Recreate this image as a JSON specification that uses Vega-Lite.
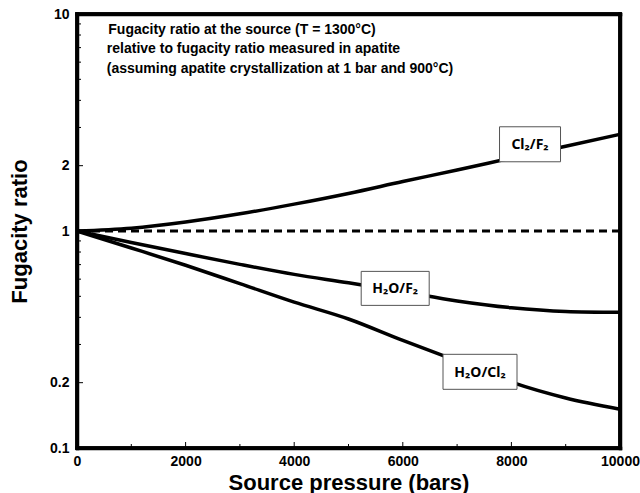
{
  "$schema": "https://vega.github.io/schema/vega-lite/v6.json",
  "width": 543,
  "height": 434,
  "autosize": "none",
  "padding": {"left": 77, "top": 14, "right": 20, "bottom": 45},
  "background": "white",
  "config": {
    "view": {"stroke": "black", "strokeWidth": 3.5},
    "font": "Liberation Sans"
  },
  "resolve": {"axis": {"x": "independent", "y": "independent"}},
  "datasets": {
    "curves": [
      {"series": "Cl2/F2", "pressure": 0, "ratio": 1.0},
      {"series": "Cl2/F2", "pressure": 1000, "ratio": 1.03},
      {"series": "Cl2/F2", "pressure": 2000, "ratio": 1.1},
      {"series": "Cl2/F2", "pressure": 3000, "ratio": 1.2},
      {"series": "Cl2/F2", "pressure": 4000, "ratio": 1.33},
      {"series": "Cl2/F2", "pressure": 5000, "ratio": 1.49},
      {"series": "Cl2/F2", "pressure": 6000, "ratio": 1.69},
      {"series": "Cl2/F2", "pressure": 7000, "ratio": 1.91},
      {"series": "Cl2/F2", "pressure": 8000, "ratio": 2.17},
      {"series": "Cl2/F2", "pressure": 9000, "ratio": 2.46},
      {"series": "Cl2/F2", "pressure": 10000, "ratio": 2.79},
      {"series": "H2O/F2", "pressure": 0, "ratio": 1.0},
      {"series": "H2O/F2", "pressure": 1000, "ratio": 0.885},
      {"series": "H2O/F2", "pressure": 2000, "ratio": 0.787},
      {"series": "H2O/F2", "pressure": 3000, "ratio": 0.702},
      {"series": "H2O/F2", "pressure": 4000, "ratio": 0.631},
      {"series": "H2O/F2", "pressure": 5000, "ratio": 0.577},
      {"series": "H2O/F2", "pressure": 6000, "ratio": 0.525},
      {"series": "H2O/F2", "pressure": 7000, "ratio": 0.476},
      {"series": "H2O/F2", "pressure": 8000, "ratio": 0.443},
      {"series": "H2O/F2", "pressure": 9000, "ratio": 0.426},
      {"series": "H2O/F2", "pressure": 10000, "ratio": 0.422},
      {"series": "H2O/Cl2", "pressure": 0, "ratio": 1.0},
      {"series": "H2O/Cl2", "pressure": 1000, "ratio": 0.835},
      {"series": "H2O/Cl2", "pressure": 2000, "ratio": 0.695},
      {"series": "H2O/Cl2", "pressure": 3000, "ratio": 0.572},
      {"series": "H2O/Cl2", "pressure": 4000, "ratio": 0.47},
      {"series": "H2O/Cl2", "pressure": 5000, "ratio": 0.393},
      {"series": "H2O/Cl2", "pressure": 6000, "ratio": 0.313},
      {"series": "H2O/Cl2", "pressure": 7000, "ratio": 0.252},
      {"series": "H2O/Cl2", "pressure": 8000, "ratio": 0.201},
      {"series": "H2O/Cl2", "pressure": 9000, "ratio": 0.17},
      {"series": "H2O/Cl2", "pressure": 10000, "ratio": 0.151}
    ],
    "frame": [
      {"side": "bottom", "k": 0, "pressure": 0, "ratio": 0.1},
      {"side": "bottom", "k": 1, "pressure": 10000, "ratio": 0.1},
      {"side": "right", "k": 0, "pressure": 10000, "ratio": 0.1},
      {"side": "right", "k": 1, "pressure": 10000, "ratio": 10},
      {"side": "top", "k": 0, "pressure": 10000, "ratio": 10},
      {"side": "top", "k": 1, "pressure": 0, "ratio": 10},
      {"side": "left", "k": 0, "pressure": 0, "ratio": 10},
      {"side": "left", "k": 1, "pressure": 0, "ratio": 0.1}
    ],
    "curveLabels": [
      {"label": "Cl₂/F₂", "pressure": 8343, "ratio": 2.51},
      {"label": "H₂O/F₂", "pressure": 5860, "ratio": 0.544},
      {"label": "H₂O/Cl₂", "pressure": 7422, "ratio": 0.2244}
    ],
    "caption": [
      {"line": "Fugacity ratio at the source (T = 1300°C)", "pressure": 3039, "ratio": 8.4},
      {"line": "relative to fugacity ratio measured in apatite", "pressure": 3250, "ratio": 6.87},
      {"line": "(assuming apatite crystallization at 1 bar and 900°C)", "pressure": 3738, "ratio": 5.6}
    ],
    "yMajorTicks": [{"ratio": 0.2}, {"ratio": 1}, {"ratio": 2}],
    "yMinorTicks": [
      {"ratio": 0.3}, {"ratio": 0.4}, {"ratio": 0.5}, {"ratio": 0.6}, {"ratio": 0.7}, {"ratio": 0.8}, {"ratio": 0.9},
      {"ratio": 3}, {"ratio": 4}, {"ratio": 5}, {"ratio": 6}, {"ratio": 7}, {"ratio": 8}, {"ratio": 9}
    ],
    "xMajorTicks": [{"pressure": 2000}, {"pressure": 4000}, {"pressure": 6000}, {"pressure": 8000}],
    "xMinorTicks": [{"pressure": 1000}, {"pressure": 3000}, {"pressure": 5000}, {"pressure": 7000}, {"pressure": 9000}]
  },
  "layer": [
    {
      "data": {"name": "curves"},
      "mark": {"type": "line", "interpolate": "monotone", "strokeWidth": 3.5, "color": "black"},
      "encoding": {
        "x": {
          "field": "pressure",
          "type": "quantitative",
          "scale": {"domain": [0, 10000], "nice": false, "zero": false},
          "axis": {
            "values": [0, 2000, 4000, 6000, 8000, 10000],
            "format": "d",
            "title": "Source pressure (bars)",
            "grid": false,
            "domain": true,
            "domainColor": "black",
            "domainWidth": 3.5,
            "domainCap": "square",
            "ticks": false,
            "labelFont": "Liberation Sans",
            "labelFontWeight": "bold",
            "labelFontSize": 14,
            "labelColor": "black",
            "labelFlush": false,
            "labelOverlap": false,
            "labelPadding": 6,
            "titleFont": "Liberation Sans",
            "titleFontWeight": "bold",
            "titleFontSize": 22,
            "titleColor": "black",
            "titlePadding": 4
          }
        },
        "y": {
          "field": "ratio",
          "type": "quantitative",
          "scale": {"type": "log", "domain": [0.1, 10], "nice": false},
          "axis": {
            "values": [0.1, 0.2, 1, 2, 10],
            "format": "~g",
            "title": "Fugacity ratio",
            "grid": false,
            "domain": true,
            "domainColor": "black",
            "domainWidth": 3.5,
            "domainCap": "square",
            "ticks": false,
            "labelFont": "Liberation Sans",
            "labelFontWeight": "bold",
            "labelFontSize": 14,
            "labelColor": "black",
            "labelFlush": false,
            "labelOverlap": false,
            "labelPadding": 8,
            "titleFont": "Liberation Sans",
            "titleFontWeight": "bold",
            "titleFontSize": 22,
            "titleColor": "black",
            "titlePadding": 18
          }
        },
        "detail": {"field": "series", "type": "nominal"}
      }
    },
    {
      "data": {"name": "frame"},
      "mark": {"type": "line", "strokeWidth": 3.5, "color": "black", "strokeCap": "square"},
      "encoding": {
        "x": {
          "field": "pressure",
          "type": "quantitative",
          "axis": {"orient": "top", "title": null, "labels": false, "ticks": false, "grid": false, "domain": true, "domainColor": "black", "domainWidth": 3.5, "domainCap": "square"}
        },
        "y": {
          "field": "ratio",
          "type": "quantitative",
          "axis": {"orient": "right", "title": null, "labels": false, "ticks": false, "grid": false, "domain": true, "domainColor": "black", "domainWidth": 3.5, "domainCap": "square"}
        },
        "detail": {"field": "side", "type": "nominal"},
        "order": {"field": "k", "type": "quantitative"}
      }
    },
    {
      "data": {"values": [{}]},
      "mark": {"type": "rule", "strokeDash": [8, 5], "strokeWidth": 3, "color": "black"},
      "encoding": {"y": {"datum": 1, "axis": null}}
    },
    {
      "data": {"name": "yMajorTicks"},
      "mark": {"type": "point", "shape": "M0,0H1", "size": 144, "filled": false, "color": "black", "opacity": 1, "strokeWidth": 1},
      "encoding": {
        "x": {"datum": 0, "axis": null},
        "y": {"field": "ratio", "type": "quantitative", "axis": null}
      }
    },
    {
      "data": {"name": "yMinorTicks"},
      "mark": {"type": "point", "shape": "M0,0H1", "size": 64, "filled": false, "color": "black", "opacity": 1, "strokeWidth": 1},
      "encoding": {
        "x": {"datum": 0, "axis": null},
        "y": {"field": "ratio", "type": "quantitative", "axis": null}
      }
    },
    {
      "data": {"name": "xMajorTicks"},
      "mark": {"type": "point", "shape": "M0,0V-1", "size": 144, "filled": false, "color": "black", "opacity": 1, "strokeWidth": 1},
      "encoding": {
        "x": {"field": "pressure", "type": "quantitative", "axis": null},
        "y": {"datum": 0.1, "axis": null}
      }
    },
    {
      "data": {"name": "xMinorTicks"},
      "mark": {"type": "point", "shape": "M0,0V-1", "size": 64, "filled": false, "color": "black", "opacity": 1, "strokeWidth": 1},
      "encoding": {
        "x": {"field": "pressure", "type": "quantitative", "axis": null},
        "y": {"datum": 0.1, "axis": null}
      }
    },
    {
      "data": {"name": "curveLabels"},
      "mark": {"type": "point", "size": 10000, "filled": true, "fill": "white", "stroke": "#555555", "strokeWidth": 1, "opacity": 1},
      "encoding": {
        "x": {"field": "pressure", "type": "quantitative", "axis": null},
        "y": {"field": "ratio", "type": "quantitative", "axis": null},
        "shape": {
          "field": "label",
          "type": "nominal",
          "scale": {
            "domain": ["Cl₂/F₂", "H₂O/F₂", "H₂O/Cl₂"],
            "range": [
              "M-0.61,-0.35H0.61V0.35H-0.61Z",
              "M-0.68,-0.34H0.68V0.34H-0.68Z",
              "M-0.74,-0.35H0.74V0.35H-0.74Z"
            ]
          },
          "legend": null
        }
      }
    },
    {
      "data": {"name": "curveLabels"},
      "mark": {"type": "text", "font": "Noto Sans", "fontWeight": "bold", "fontSize": 14, "color": "black", "align": "center", "baseline": "middle", "dy": 1},
      "encoding": {
        "x": {"field": "pressure", "type": "quantitative", "axis": null},
        "y": {"field": "ratio", "type": "quantitative", "axis": null},
        "text": {"field": "label", "type": "nominal"}
      }
    },
    {
      "data": {"name": "caption"},
      "mark": {"type": "text", "font": "Liberation Sans", "fontWeight": "bold", "fontSize": 14, "color": "black", "align": "center", "baseline": "middle"},
      "encoding": {
        "x": {"field": "pressure", "type": "quantitative", "axis": null},
        "y": {"field": "ratio", "type": "quantitative", "axis": null},
        "text": {"field": "line", "type": "nominal"}
      }
    }
  ]
}
